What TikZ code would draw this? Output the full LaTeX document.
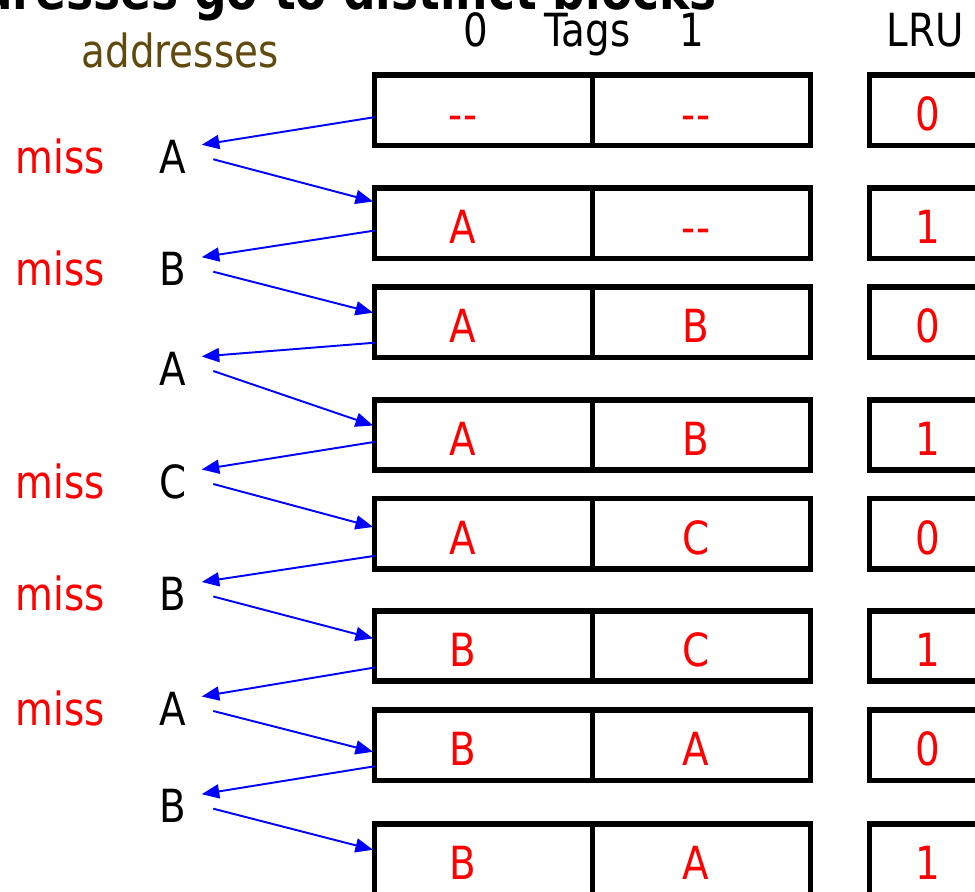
\documentclass[tikz,border=0pt]{standalone}
\usepackage{fontspec}
\setmainfont{DejaVu Sans}[FakeStretch=0.85]
\usetikzlibrary{arrows.meta,calc}
\definecolor{addrbrown}{RGB}{96,74,14}
\definecolor{missred}{RGB}{255,0,0}
\definecolor{arrblue}{RGB}{0,0,255}
\begin{document}
\begin{tikzpicture}[x=0.02cm,y=-0.02cm,
  cellbox/.style={draw=black,line width=3.1pt,minimum width=4.354cm,minimum height=1.406cm,inner sep=0pt},
  lrubox/.style={draw=black,line width=3.1pt,minimum width=4cm,minimum height=1.406cm,inner sep=0pt},
  big/.style={font=\fontsize{26}{30}\selectfont,inner sep=0pt,anchor=base},
  redtxt/.style={big,text=missred},
  blacktxt/.style={big,text=black},
  arr/.style={draw=arrblue,line width=1.1pt,-{Triangle[length=10pt,width=8pt]}}
]
\useasboundingbox (0,0) rectangle (975,892);
\clip (0,0) rectangle (975,892);

% title (cut off at top)
\node[inner sep=0pt,anchor=base west,font=\fontsize{30.5}{34}\selectfont\bfseries] (title) at (-20,10) {dresses go to distinct blocks};

% headers
\node[big,text=addrbrown] (haddr) at (180,68) {addresses};
\node[blacktxt] (h0) at (476,47) {0};
\node[blacktxt] (htags) at (587.5,47) {Tags};
\node[blacktxt] (h1) at (692,47) {1};
\node[blacktxt] (hlru) at (925.5,47) {LRU};

% cache rows
\foreach \i/\y/\a/\b/\l in {1/110.35/-{}-/-{}-/0, 2/223.35/A/-{}-/1, 3/322.15/A/B/0, 4/435/A/B/1, 5/533.85/A/C/0, 6/646/B/C/1, 7/745.35/B/A/0, 8/859.35/B/A/1}{
  \node[cellbox] (t\i a) at (483.6,\y) {};
  \node[cellbox] (t\i b) at (701.4,\y) {};
  \node[lrubox] (r\i) at (969.3,\y) {};
  \node[redtxt] (t\i atxt) at (463,\y+20.5) {\a};
  \node[redtxt] (t\i btxt) at (696,\y+20.5) {\b};
  \node[redtxt] (r\i txt) at (928,\y+20.5) {\l};
}

% address sequence
\foreach \j/\y/\t in {1/173.3/A, 2/285.7/B, 3/385/A, 4/498/C, 5/610.5/B, 6/725/A, 7/822.7/B}{
  \node[blacktxt] (l\j) at (173,\y) {\t};
  \coordinate (l\j tip) at ($(l\j.base)+(28.7,-28.5)$);
  \coordinate (l\j st) at ($(l\j.base)+(40.3,-14)$);
}
\foreach \j/\y in {1/173.3, 2/285.7, 4/498, 5/610.5, 6/725}{
  \node[redtxt] (m\j) at (60,\y) {miss};
}

% box-side arrow points
\foreach \i/\o in {1/44.6, 2/45, 3/58.4, 4/44.7, 5/59.8, 6/59.3, 7/58.7}{
  \coordinate (o\i) at ($(t\i a.north west)+(3,\o)$);
}
\foreach \i/\o in {2/16, 3/28.4, 4/28.4, 5/31, 6/30.3, 7/44.3, 8/28.3}{
  \coordinate (n\i) at ($(t\i a.north west)+(1,\o)$);
}

% connectors
\foreach \j [evaluate=\j as \k using int(\j+1)] in {1,...,7}{
  \draw[arr] (o\j) -- (l\j tip);
  \draw[arr] (l\j st) -- (n\k);
}
\end{tikzpicture}
\end{document}
